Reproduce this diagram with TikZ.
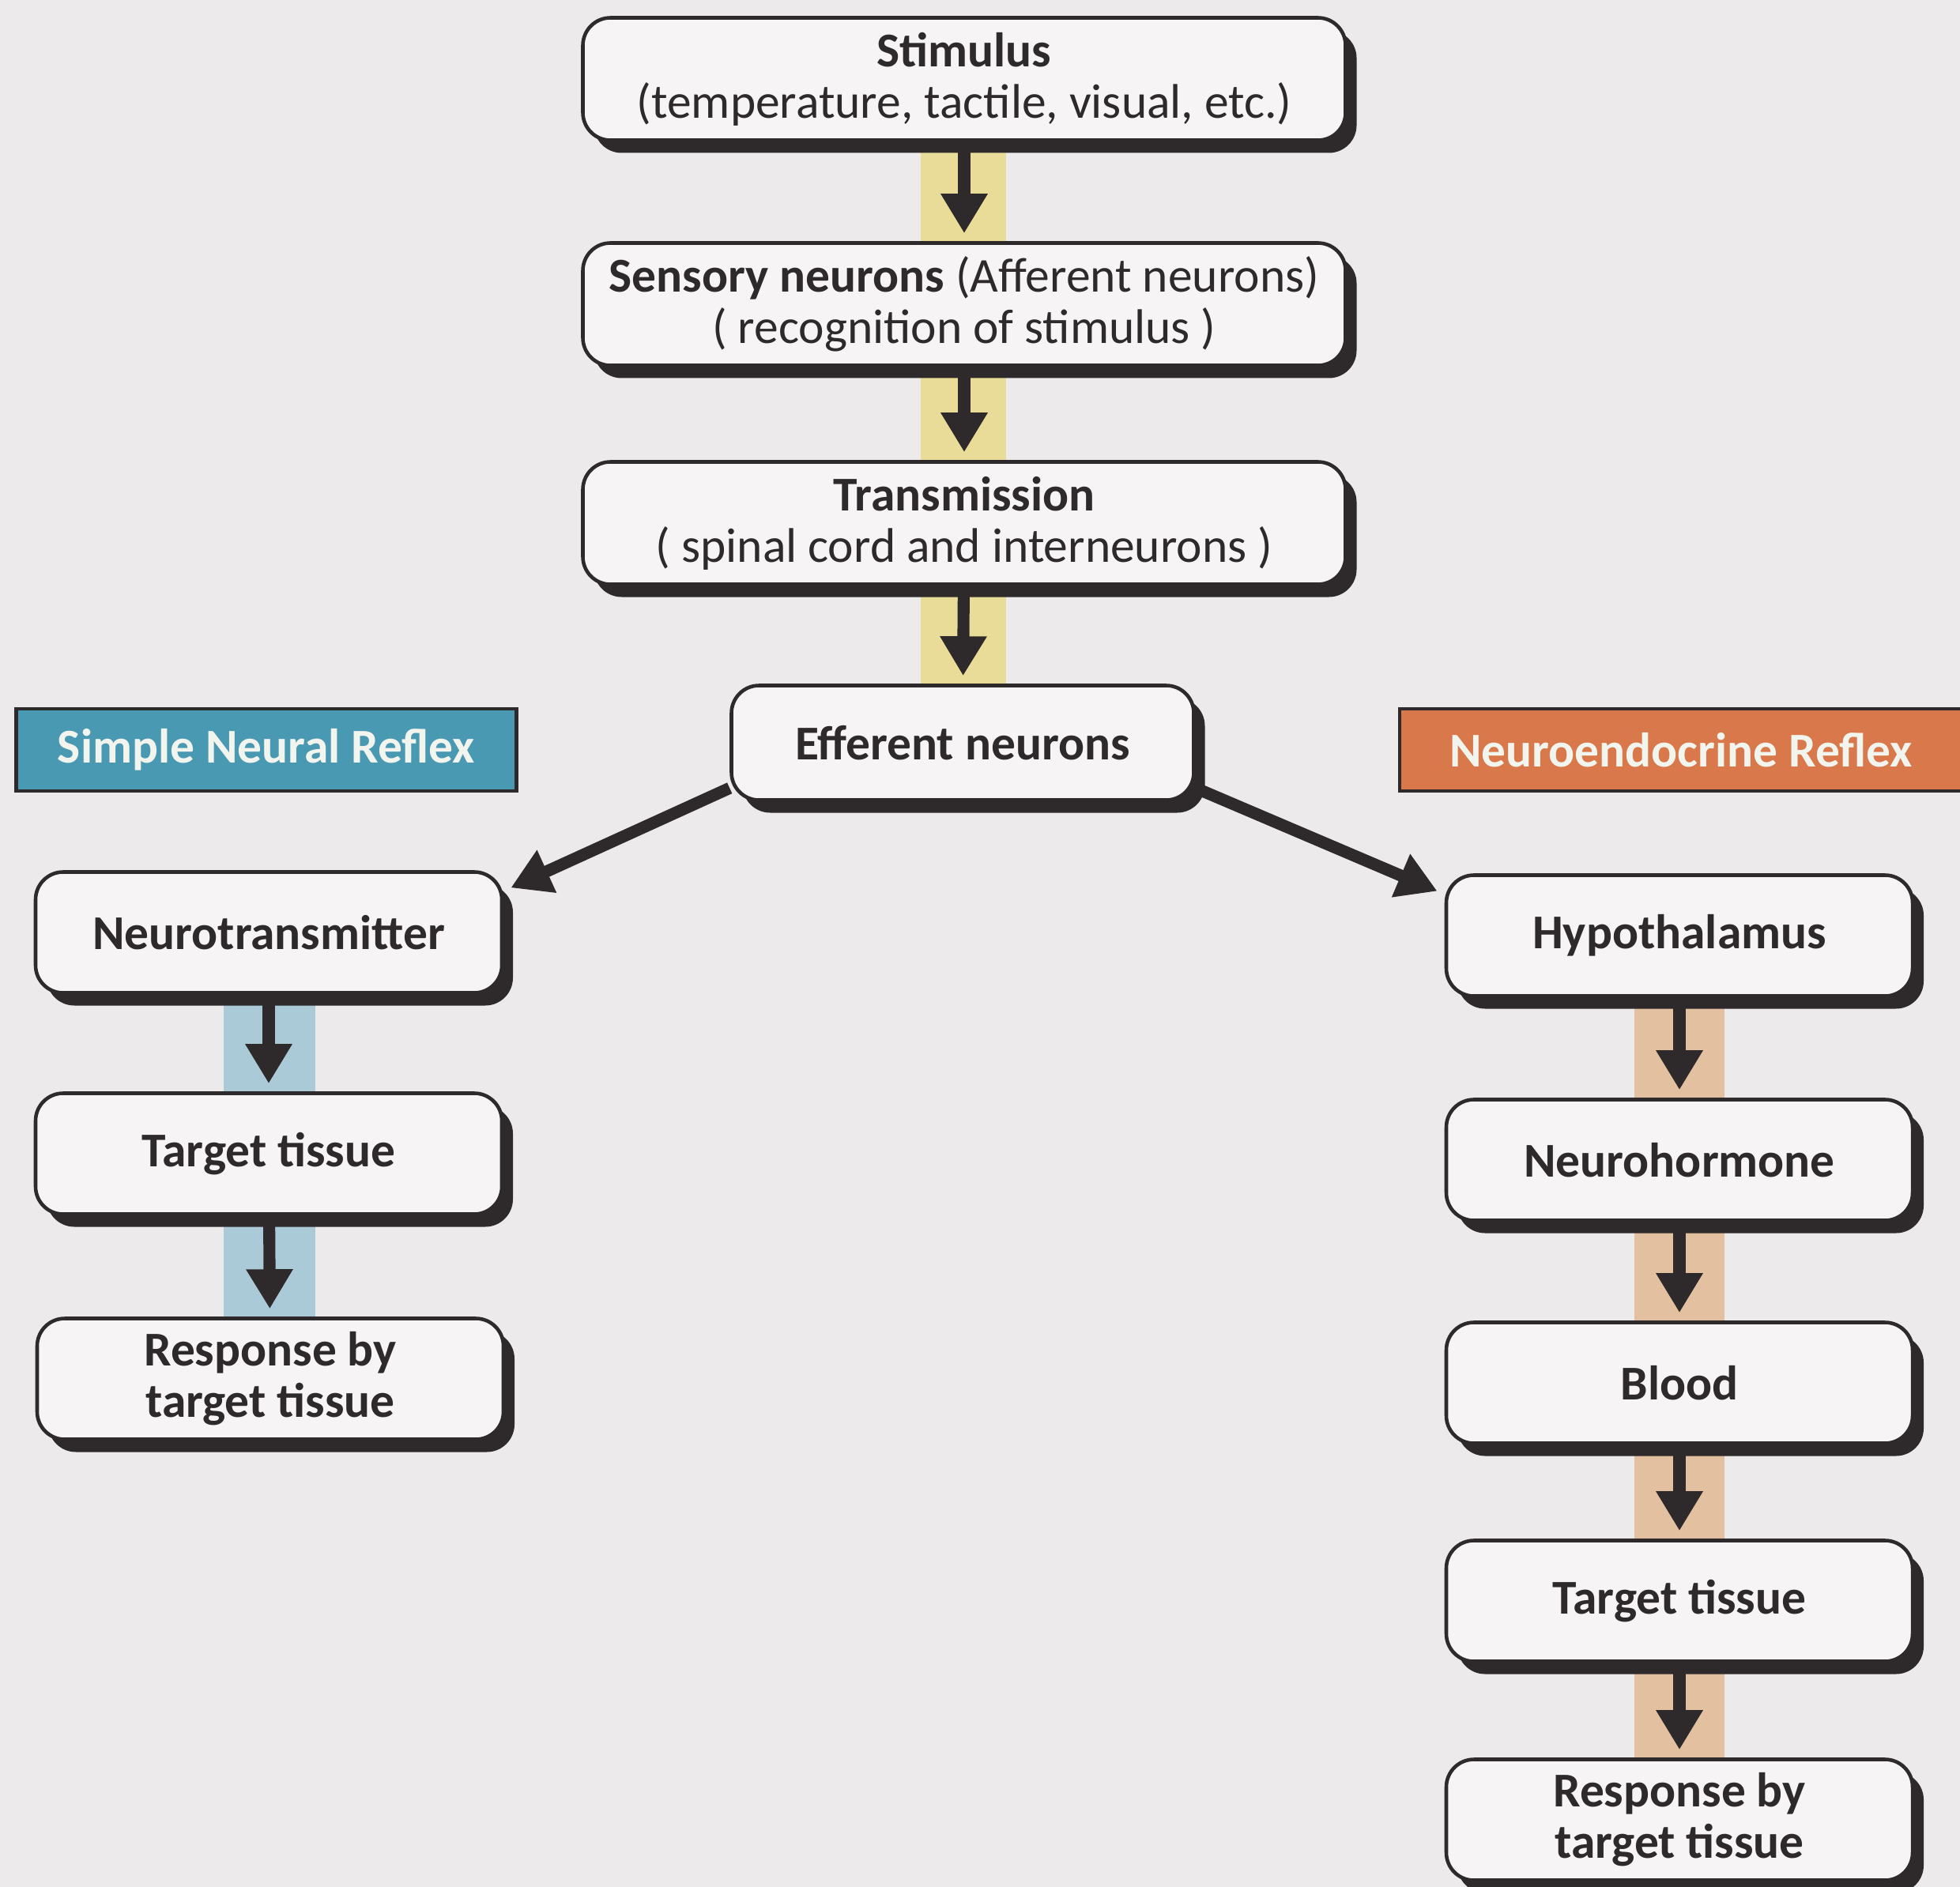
\documentclass[tikz,border=0pt]{standalone}
\usepackage{fontspec}
\setmainfont{Carlito}
\usetikzlibrary{arrows.meta,shadows}

\definecolor{paper}{HTML}{ECEAEB}
\definecolor{boxfill}{HTML}{F6F4F4}
\definecolor{ink}{HTML}{2E2A2B}
\definecolor{teal}{HTML}{4A99B3}
\definecolor{rust}{HTML}{D9784A}
\definecolor{tagtext}{HTML}{F2F4EE}
\definecolor{yellowband}{HTML}{E9DC98}
\definecolor{blueband}{HTML}{A9CAD6}
\definecolor{tanband}{HTML}{E2C0A0}

\newcommand{\boxfont}{\fontsize{17.5}{18.5}\selectfont}

\pgfdeclarelayer{bg}
\pgfsetlayers{bg,main}

\tikzset{
	box/.style={draw=ink, line width=1.3pt, fill=boxfill, rounded corners=3.5mm, align=center, text=ink, font=\boxfont,
		drop shadow={shadow xshift=1.4mm, shadow yshift=-1.6mm, fill=ink, opacity=1}},
	wide/.style={box, minimum width=9.65cm, minimum height=1.55cm},
	col/.style={box, font=\boxfont\bfseries, minimum width=5.9cm, minimum height=1.53cm},
	tag/.style={draw=ink, line width=1.2pt, text=tagtext, font=\boxfont\bfseries, minimum height=1.04cm},
	flow/.style={-{Triangle[length=5mm,width=5.6mm]}, line width=4.3pt, draw=ink, shorten >=1mm},
}

\begin{document}
\begin{tikzpicture}
		\useasboundingbox (0,0) rectangle (24.8,-23.88);
		\begin{pgfonlayer}{bg}
			\fill[paper] (0,0) rectangle (24.8,-23.88);
		\end{pgfonlayer}

		\node (stim)[wide] at (12.2,-1.0) {{\bfseries Stimulus}\\(temperature, tactile, visual, etc.)};
		\node (sens)[wide] at (12.2,-3.85) {{\bfseries Sensory neurons} (Afferent neurons)\\( recognition of stimulus )};
		\node (trans)[wide] at (12.2,-6.62) {{\bfseries Transmission}\\( spinal cord and interneurons )};
		\node (eff)[col, minimum width=5.85cm, minimum height=1.45cm] at (12.18,-9.4) {Efferent neurons};

		\node (simple)[tag, fill=teal, minimum width=6.33cm] at (3.37,-9.49) {Simple Neural Reflex};
		\node (neuro)[tag, fill=rust, minimum width=7.12cm] at (21.27,-9.49) {Neuroendocrine Reflex};

		\node (ntrans)[col] at (3.4,-11.8) {Neurotransmitter};
		\node (ltissue)[col] at (3.4,-14.6) {Target tissue};
		\node (lresp)[col] at (3.42,-17.45) {Response by\\target tissue};

		\node (hypo)[col] at (21.25,-11.84) {Hypothalamus};
		\node (nhorm)[col] at (21.25,-14.68) {Neurohormone};
		\node (blood)[col] at (21.25,-17.5) {Blood};
		\node (rtissue)[col] at (21.25,-20.26) {Target tissue};
		\node (rresp)[col] at (21.25,-23.03) {Response by\\target tissue};

		\begin{pgfonlayer}{bg}
			\fill[yellowband] ([xshift=-5.5mm]stim.south) rectangle ([xshift=5.5mm]eff.north);
			\fill[blueband] ([xshift=-5.7mm]ntrans.south) rectangle ([xshift=5.7mm]lresp.north);
			\fill[tanband] ([xshift=-5.7mm]hypo.south) rectangle ([xshift=5.7mm]rresp.north);
		\end{pgfonlayer}

		\draw[flow] (stim) -- (sens);
		\draw[flow] (sens) -- (trans);
		\draw[flow] (trans) -- (eff);
		\draw[flow] (eff.191) -- (ntrans.10);
		\draw[flow] (eff.349) -- (hypo.170);
		\draw[flow] (ntrans) -- (ltissue);
		\draw[flow] (ltissue) -- (lresp);
		\draw[flow] (hypo) -- (nhorm);
		\draw[flow] (nhorm) -- (blood);
		\draw[flow] (blood) -- (rtissue);
		\draw[flow] (rtissue) -- (rresp);
	\end{tikzpicture}
\end{document}
